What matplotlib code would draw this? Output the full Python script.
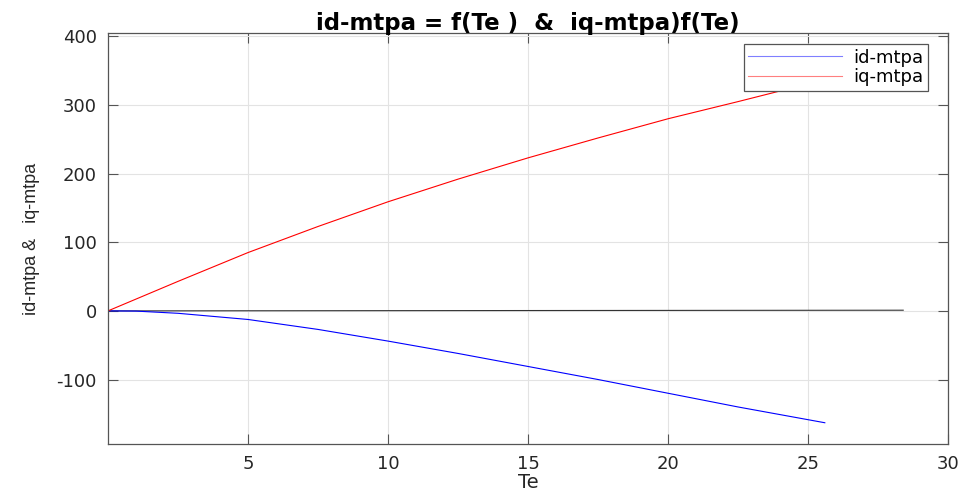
import numpy as np
import matplotlib
matplotlib.use('Agg')
import matplotlib.pyplot as plt

plt.rcParams['font.family'] = ['DejaVu Sans']
plt.rcParams['axes.unicode_minus'] = False

# values
te_d = [0, 1, 2.5, 5, 7.5, 10, 12.5, 15, 17.5, 20, 22.5, 25.6]
id_mtpa = [0, -0.3, -3.5, -12.5, -27, -44, -62, -81, -100, -120, -140, -163]

te_q = [0, 2.5, 5, 7.5, 10, 12.5, 15, 17.5, 20, 22.5, 25.6]
iq_mtpa = [0, 43, 85, 123, 159, 192, 223, 252, 280, 305, 337]

te_ref = [0, 28.4]
ref_line = [0, 1]

fig = plt.figure(figsize=(9.65, 4.91), dpi=100)
ax = fig.add_axes([0.1119, 0.0957, 0.8705, 0.8371])

ax.plot(te_ref, ref_line, color='#333333', lw=0.8)
ax.plot(te_d, id_mtpa, color='#0000ff', lw=0.8, label='id-mtpa')
ax.plot(te_q, iq_mtpa, color='#ff0000', lw=0.8, label='iq-mtpa')

ax.set_xlim(0, 30)
ax.set_ylim(-194, 405)
ax.set_xticks([5, 10, 15, 20, 25, 30])
ax.set_yticks([-100, 0, 100, 200, 300, 400])
ax.grid(True, color='#e3e3e3', lw=0.8)
ax.set_axisbelow(True)
ax.tick_params(direction='in', top=True, right=True, length=7, width=0.8,
               labelsize=13, colors='#555555', labelcolor='#262626', pad=8)
for s in ax.spines.values():
    s.set_color('#555555')
    s.set_linewidth(0.9)

ax.set_title('id-mtpa = f(Te )  &  iq-mtpa)f(Te)', fontsize=16.5, fontweight='bold', pad=2)
ax.set_xlabel('Te', fontsize=14, color='#262626', labelpad=0)
ax.set_ylabel('id-mtpa &   iq-mtpa', fontsize=13, color='#262626', labelpad=12,
              family='Liberation Sans')

leg = ax.legend(loc='upper right', bbox_to_anchor=(0.976, 0.973), fontsize=13,
                fancybox=False, framealpha=1, edgecolor='#555555',
                handlelength=5.2, handletextpad=0.6, borderpad=0.25,
                labelspacing=0.1, borderaxespad=0)
leg.get_frame().set_linewidth(0.9)
for h in leg.get_lines():
    h.set_alpha(0.5)

fig.savefig('out.png', dpi=100)
